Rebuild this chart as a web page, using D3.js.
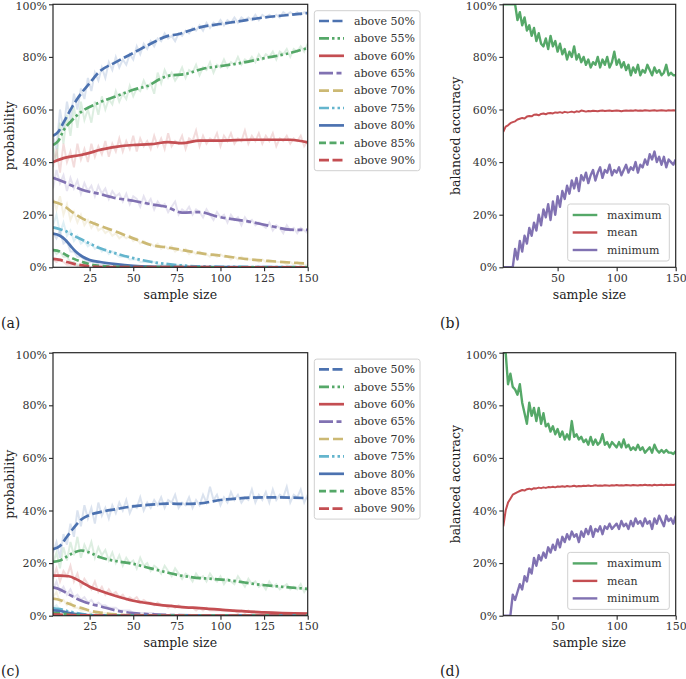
<!DOCTYPE html>
<html><head><meta charset="utf-8">
<script src="https://cdn.jsdelivr.net/npm/d3@7"></script>
<style>body{margin:0;background:#fff;} svg text{font-family:"DejaVu Serif",serif;}</style>
</head><body><svg id="c" width="686" height="679"></svg>
<script>
// ---------------- DATA ----------------
const thresholdLabels = ["above 50%","above 55%","above 60%","above 65%","above 70%","above 75%","above 80%","above 85%","above 90%"];
const accLabels = ["maximum","mean","minimum"];
const yTicks = [0,20,40,60,80,100];
const xTicksProb = [25,50,75,100,125,150];
const xTicksAcc = [50,100,150];
const rawSampleSizes = d3.range(4,151,2);

// panel (a) smoothed curves: [sample size, %]
const smoothA = [
 [[4,50],[7,51.5],[10,55],[15,61],[20,66],[25,70],[30,74],[40,78],[50,81.5],[60,85],[70,88],[75,88.5],[80,89.5],[90,91.5],[100,92.5],[110,93.5],[125,95],[140,96],[150,96.7]],
 [[4,46.5],[7,48],[10,52],[15,56],[20,59],[30,62.5],[40,65],[50,67.5],[60,69.5],[65,71.5],[70,72.8],[80,73.5],[90,75.5],[100,76.5],[110,77.5],[125,79.5],[140,81.5],[150,83.4]],
 [[4,40],[10,41.5],[20,42.7],[25,43.5],[30,44.5],[40,45.8],[50,46.5],[60,46.8],[70,47.6],[78,47.2],[88,48.2],[100,48.2],[117,48.5],[130,48.5],[140,48.5],[150,47.5]],
 [[4,34],[10,32.5],[15,31],[21,29.4],[30,28],[40,26.3],[50,25.3],[60,24],[69,23],[78,20.8],[88,21],[98,19.3],[117,17.3],[130,15.5],[140,14.3],[150,14.2]],
 [[4,25],[10,23.5],[15,21],[21,18.5],[30,16],[40,13.6],[50,11],[60,8.5],[70,7.5],[78,6.6],[90,5.2],[98,4.6],[117,3],[130,2.3],[150,1.4]],
 [[4,15.2],[8,14.5],[12,13.5],[16,12],[21,10.4],[26,8.7],[31,7.2],[40,5.3],[50,3.5],[60,2.1],[70,1.2],[80,0.6],[100,0.2],[125,0.1],[150,0.05]],
 [[4,12.8],[8,12],[11,10.5],[14,8.2],[17,6],[21,4],[25,2.8],[31,2],[40,1.2],[50,0.6],[60,0.3],[80,0.1],[150,0]],
 [[4,6.5],[8,6],[12,4.5],[16,3.2],[21,2],[26,1],[31,0.5],[40,0.2],[60,0.05],[150,0]],
 [[4,3.2],[8,2.8],[12,2],[16,1.3],[21,0.7],[26,0.3],[35,0.1],[150,0]]
];
// panel (a) raw (faint) curves, sample sizes 4,6,8,...
const rawA50 = [50,45,60,52,63,56,66,60,68,64, 72,67,74,71,76,72,78,75,80,76, 79,77,81,79,84,81,85,83,86,84, 87,86,89,87,88,86,89,88,90,89, 91,90,92,90,93,91,93,92,94,92, 94,93,95,93,95,94,95,94,96,94, 96,95,96,95,96,95,97,96,97,96, 97,96,97,96];
const rawA55 = [46,40,55,47,58,50,61,53,63,56, 60,55,63,58,65,60,64,62,67,63, 66,64,69,65,68,67,71,68,70,66, 74,70,75,72,74,71,73,76,72,75, 74,77,73,76,75,78,74,77,76,79, 76,78,77,80,77,79,78,80,78,81, 79,81,80,82,79,82,81,83,80,83, 82,84,82,85];
const rawA60 = [38,45,36,47,40,44,38,47,41,45, 40,47,42,46,43,48,42,47,44,49, 44,48,45,50,44,49,46,48,45,50, 46,49,45,51,46,48,47,50,45,49, 48,52,46,50,47,49,48,51,46,50, 48,51,47,49,48,52,47,50,48,51, 47,50,48,51,46,49,48,50,47,49, 48,50,46,48];
const rawA65 = [30,37,32,35,29,34,30,33,28,32, 29,31,27,31,28,30,26,29,27,28, 25,28,24,27,26,23,27,24,26,22, 25,23,24,21,23,25,20,22,21,23, 20,22,21,19,22,20,18,21,19,20, 17,20,18,19,16,19,17,18,16,17, 16,15,17,14,16,15,13,16,14,15, 13,15,14,13];
const rawA70 = [26,22,27,20,24,18,21,17,20,16, 18,15,17,14,15,13,14,12,13,11, 12,11,12,10,11,9,10,9,9,8, 9,7,8,7,8,6,7,6,7,5, 6,5,6,5,5,4,5,4,5,4, 4,3,4,3,4,3,3,3,3,2, 3,2,2,2,2,2,2,1,2,1, 2,1,1,1];
const rawA75 = [16,20,13,17,12,14,10,12,9,10, 8,9,7,8,6,7,5,6,5,4, 4,4,3,3,3,2,2,2,2,2, 1,1,1,1,1,1,1,1,0.5,0.5];
const rawA80 = [13,11,14,9,10,6,6,4,4,3, 2,2,2,1,1,1,1,1,0.5,0.5];
const rawA85 = [7,5,6,4,4,2,2,1,1,1];
const rawA90 = [3,2,3,2,1,1,1,0.5,0.5,0.3];

// panel (c) smoothed curves
const smoothC = [
 [[4,25.3],[8,26.5],[12,30],[16,33.5],[20,36.5],[25,38.3],[31,39.4],[40,40.5],[50,41.6],[60,42.2],[69,42.6],[80,42.5],[88,42.7],[100,44],[110,44.6],[125,45],[140,44.9],[150,44.7]],
 [[4,20.5],[8,21],[12,22.5],[16,24],[20,24.8],[25,24],[31,22.2],[40,20.8],[50,19.7],[60,18],[69,16.5],[77,15.3],[84,14.6],[95,14],[107,13.3],[120,12],[135,11],[150,10.2]],
 [[4,15.2],[8,15.2],[13,15],[17,14],[21,12.5],[25,11],[31,9.5],[40,7.5],[50,5.7],[60,4.6],[69,3.8],[80,3.2],[88,2.9],[100,2.3],[107,1.9],[125,1.3],[150,0.8]],
 [[4,10.8],[8,10],[12,8.5],[16,7],[21,5.5],[26,4.4],[31,3.6],[40,2],[50,1],[60,0.5],[75,0.2],[100,0.05],[150,0]],
 [[4,6.5],[8,6],[12,4.8],[16,3.8],[21,2.8],[26,1.8],[31,1.2],[40,0.5],[50,0.2],[75,0.05],[150,0]],
 [[4,2.8],[8,2.5],[12,1.8],[16,1.2],[21,0.6],[30,0.2],[50,0],[150,0]],
 [[4,2.0],[8,1.8],[12,1.2],[16,0.7],[21,0.3],[30,0.1],[150,0]],
 [[4,1.0],[8,0.9],[12,0.6],[16,0.3],[25,0.1],[150,0]],
 [[4,0.5],[8,0.4],[12,0.3],[20,0.1],[150,0]]
];
const rawC50 = [24,28,22,31,27,35,30,40,34,42, 37,41,35,43,38,41,37,42,39,43, 40,44,39,42,41,45,40,43,41,44, 42,45,41,44,43,46,41,43,42,45, 41,44,42,46,43,49,44,46,42,45, 43,47,44,46,43,45,44,48,43,46, 44,47,43,48,44,46,45,49,43,46, 45,48,43,46];
const rawC55 = [20,24,18,26,21,28,23,30,22,27, 24,28,22,26,23,25,21,24,20,23, 19,22,20,21,18,22,19,20,17,19, 18,16,19,17,15,18,16,14,16,15, 13,16,14,15,13,16,14,13,15,12, 14,13,12,15,13,11,14,12,13,11, 12,10,13,11,12,10,11,12,10,11, 10,12,9,11];
const rawC60 = [14,18,13,17,15,19,13,16,11,14, 12,10,13,9,11,8,10,8,9,7, 8,6,7,6,7,5,6,5,5,4, 5,4,4,3,4,3,4,3,3,3, 3,2,3,2,3,2,2,2,2,2, 2,2,2,1,2,1,2,1,1,1, 1,1,1,1,1,1,1,1,1,1, 1,1,1,1];
const rawC65 = [10,13,9,11,8,10,7,8,6,7, 5,6,4,5,4,4,3,3,3,2, 2,2,2,1,1,1,1,1,1,1];
const rawC70 = [7,9,5,6,4,5,3,3,2,2, 2,1,1,1,1,1,0.5,0.5,0.5,0.5];
const rawC75 = [3,4,2,2,1,1,1,0.5,0.5,0.3];

// panel (b) balanced accuracy, sample sizes 4,6,8,...
const maxB = [100,100,100,100,100,100,94,97,92,95, 90,92,88,91,86,89,85,84,87,83, 88,84,86,82,85,81,83,79,82,80, 84,79,81,78,80,77,79,76,78,77, 80,76,79,77,80,76,78,82,77,79, 76,78,75,77,73,76,74,77,73,75, 74,77,75,73,76,74,75,73,74,77, 73,74,73,73];
const meanB = [51.5,53.5,54,54.8,55.2,55.5,56.2,56.5,56.8,56.6, 57.3,57.5,57.4,58,58.1,57.8,58.3,58.5,58.2,58.6, 58.7,58.5,58.9,58.8,59,58.7,59.1,58.9,59,59.2, 58.9,59.3,59.1,59.6,59.4,59.2,59.4,59.3,59.5,59.4, 59.3,59.5,59.6,59.4,59.5,59.6,59.4,59.5,59.6,59.5, 59.3,59.5,59.6,59.5,59.6,59.5,59.7,59.5,59.6,59.5, 59.7,59.6,59.5,59.6,59.7,59.5,59.6,59.7,59.6,59.5, 59.7,59.6,59.7,59.6];
const minB = [0,0,0,0,0,7,3,10,6,12, 9,15,12,17,14,20,16,22,19,24, 18,25,20,27,23,29,26,31,28,33, 30,34,29,35,33,36,32,35,37,33, 36,38,34,37,36,39,35,37,36,38, 35,37,39,36,38,37,40,36,39,38, 41,39,43,41,44,40,42,39,42,38, 41,40,39,41];
// panel (d)
const maxD = [100,100,88,92,87,86,84,88,81,77, 73,81,76,79,74,79,73,77,72,73, 70,72,69,71,68,70,67,69,67,74, 68,69,67,68,66,67,65,68,65,67, 65,66,69,65,66,64,66,65,64,66, 64,67,64,65,63,64,63,65,63,64, 62,63,64,62,65,63,62,63,62,63, 62,62,61.5,62.5];
const meanD = [34,40,43,44.5,46,46.5,47,47.4,47.8,47.6, 48.1,48.3,48,48.5,48.4,48.7,48.5,48.8,48.6,48.9, 48.8,49,48.8,49.1,49,49.2,49,49.3,49.1,49.2, 49.4,49.1,49.3,49.2,49.4,49.3,49.5,49.3,49.4,49.6, 49.4,49.5,49.4,49.6,49.5,49.4,49.6,49.5,49.7,49.5, 49.6,49.5,49.7,49.6,49.5,49.7,49.6,49.5,49.7,49.6, 49.8,49.6,49.7,49.5,49.8,49.6,49.7,49.8,49.6,49.8, 49.7,49.8,49.7,49.9];
const minD = [0,0,0,0,8,6,9,12,10,15, 13,18,16,22,19,23,21,24,22,26, 24,27,25,29,26,30,28,31,29,32, 30,31,28,32,30,33,31,34,30,33, 32,34,31,34,33,35,33,34,35,33, 36,34,35,33,36,34,37,35,36,34, 37,35,36,33,37,35,38,36,34,38, 36,37,35,38];

// ---------------- STYLE ----------------
const seriesColors = ["#4C72B0","#55A868","#C44E52","#8172B2","#CCB974","#64B5CD","#4C72B0","#55A868","#C44E52"];
const seriesDash = ["10,3.5","10,3,2.5,3,2.5,3",null,"14,3.5,5,3.5","10,4","10,3,2.5,3,2.5,3",null,"7,3.5","10,3.5"];
const accColors = ["#55A868","#C44E52","#8172B2"];
const ink = "#262626";

const svg = d3.select("#c");
const rowDy = [0, 348.4];
const probBox = {l:53, r:307.7, t:4.3, b:267.3};
const accBox = {l:503.3, r:675.7, t:4.3, b:267.3};
let clipId = 0;

function makeFrame(box, dy, xTicks, yLabel, yLabelX) {
  const x = d3.scaleLinear().domain([4,150]).range([box.l, box.r]);
  const y = d3.scaleLinear().domain([0,100]).range([box.b+dy, box.t+dy]);
  const id = "clip"+(clipId++);
  svg.append("clipPath").attr("id", id).append("rect")
    .attr("x", box.l).attr("y", box.t+dy).attr("width", box.r-box.l).attr("height", box.b-box.t);
  const plot = svg.append("g").attr("clip-path", `url(#${id})`);
  const ax = svg.append("g");
  const gy = ax.append("g").attr("transform", `translate(${box.l},0)`)
    .call(d3.axisLeft(y).tickValues(yTicks).tickFormat(d=>d+"%").tickSize(4).tickPadding(2));
  const gx = ax.append("g").attr("transform", `translate(0,${box.b+dy})`)
    .call(d3.axisBottom(x).tickValues(xTicks).tickSize(4).tickPadding(3));
  [gx, gy].forEach(g => {
    g.select(".domain").remove();
    g.selectAll("line").attr("stroke", ink).attr("stroke-width", 1.1);
    g.selectAll("text").attr("fill", "#333").attr("font-size", 11).attr("font-family", "DejaVu Serif");
  });
  // keep the top tick label inside the picture
  gy.selectAll(".tick").filter(d => d === 100).select("text").attr("dy", "0.5em");
  ax.append("rect").attr("x", box.l).attr("y", box.t+dy).attr("width", box.r-box.l).attr("height", box.b-box.t)
    .attr("fill", "none").attr("stroke", ink).attr("stroke-width", 1.2);
  ax.append("text").attr("x", (box.l+box.r)/2).attr("y", 299+dy).attr("text-anchor","middle")
    .attr("font-size", 12.5).attr("fill", "#222").text("sample size");
  ax.append("text").attr("transform", `translate(${yLabelX},${(box.t+box.b)/2+dy}) rotate(-90)`)
    .attr("text-anchor","middle").attr("font-size", 12.5).attr("fill", "#222").text(yLabel);
  return {x, y, plot, ax};
}

function probPanel(dy, smooth, raws, tag) {
  const {x, y, plot, ax} = makeFrame(probBox, dy, xTicksProb, "probability", 13.5);
  const rawLine = d3.line().x((d,i)=>x(rawSampleSizes[i])).y(d=>y(d));
  raws.forEach((r,k) => {
    if (!r) return;
    plot.append("path").attr("d", rawLine(r)).attr("fill","none")
      .attr("stroke", seriesColors[k]).attr("stroke-opacity", 0.2).attr("stroke-width", 2);
  });
  const sLine = d3.line().x(d=>x(d[0])).y(d=>y(d[1])).curve(d3.curveMonotoneX);
  smooth.forEach((s,k) => {
    plot.append("path").attr("d", sLine(s)).attr("fill","none")
      .attr("stroke", seriesColors[k]).attr("stroke-width", 2.7)
      .attr("stroke-dasharray", seriesDash[k]);
  });
  // legend
  const lg = ax.append("g");
  lg.append("rect").attr("x", 314.3).attr("y", 10.7+dy).attr("width", 105.7).attr("height", 160)
    .attr("rx", 2.5).attr("fill", "#fff").attr("stroke", "#d0d0d0").attr("stroke-width", 1);
  thresholdLabels.forEach((t,k) => {
    const yy = 21 + k*17.4 + dy;
    lg.append("line").attr("x1", 319).attr("x2", 344).attr("y1", yy).attr("y2", yy)
      .attr("stroke", seriesColors[k]).attr("stroke-width", 2.7).attr("stroke-dasharray", seriesDash[k]);
    lg.append("text").attr("x", 354).attr("y", yy).attr("dy", "0.35em").attr("font-size", 11)
      .attr("fill", "#333").text(t);
  });
  ax.append("text").attr("x", 1).attr("y", 328+dy).attr("font-size", 14).attr("fill", "#222").text(tag);
}

function accPanel(dy, series, tag) {
  const {x, y, plot, ax} = makeFrame(accBox, dy, xTicksAcc, "balanced accuracy", 460);
  const line = d3.line().x((d,i)=>x(rawSampleSizes[i])).y(d=>y(d));
  series.forEach((s,k) => {
    plot.append("path").attr("d", line(s)).attr("fill","none")
      .attr("stroke", accColors[k]).attr("stroke-width", k===1 ? 2 : 2.4).attr("stroke-linejoin","round");
  });
  const lg = ax.append("g");
  lg.append("rect").attr("x", 567.7).attr("y", 204+dy).attr("width", 101.6).attr("height", 57)
    .attr("rx", 2.5).attr("fill", "#fff").attr("stroke", "#d0d0d0").attr("stroke-width", 1);
  accLabels.forEach((t,k) => {
    const yy = 215 + k*17.5 + dy;
    lg.append("line").attr("x1", 572.7).attr("x2", 597.3).attr("y1", yy).attr("y2", yy)
      .attr("stroke", accColors[k]).attr("stroke-width", 2.4);
    lg.append("text").attr("x", 607).attr("y", yy).attr("dy", "0.35em").attr("font-size", 11)
      .attr("fill", "#333").text(t);
  });
  ax.append("text").attr("x", 440).attr("y", 328+dy).attr("font-size", 14).attr("fill", "#222").text(tag);
}

probPanel(rowDy[0], smoothA, [rawA50,rawA55,rawA60,rawA65,rawA70,rawA75,rawA80,rawA85,rawA90], "(a)");
accPanel(rowDy[0], [maxB, meanB, minB], "(b)");
probPanel(rowDy[1], smoothC, [rawC50,rawC55,rawC60,rawC65,rawC70,rawC75,null,null,null], "(c)");
accPanel(rowDy[1], [maxD, meanD, minD], "(d)");
</script></body></html>
